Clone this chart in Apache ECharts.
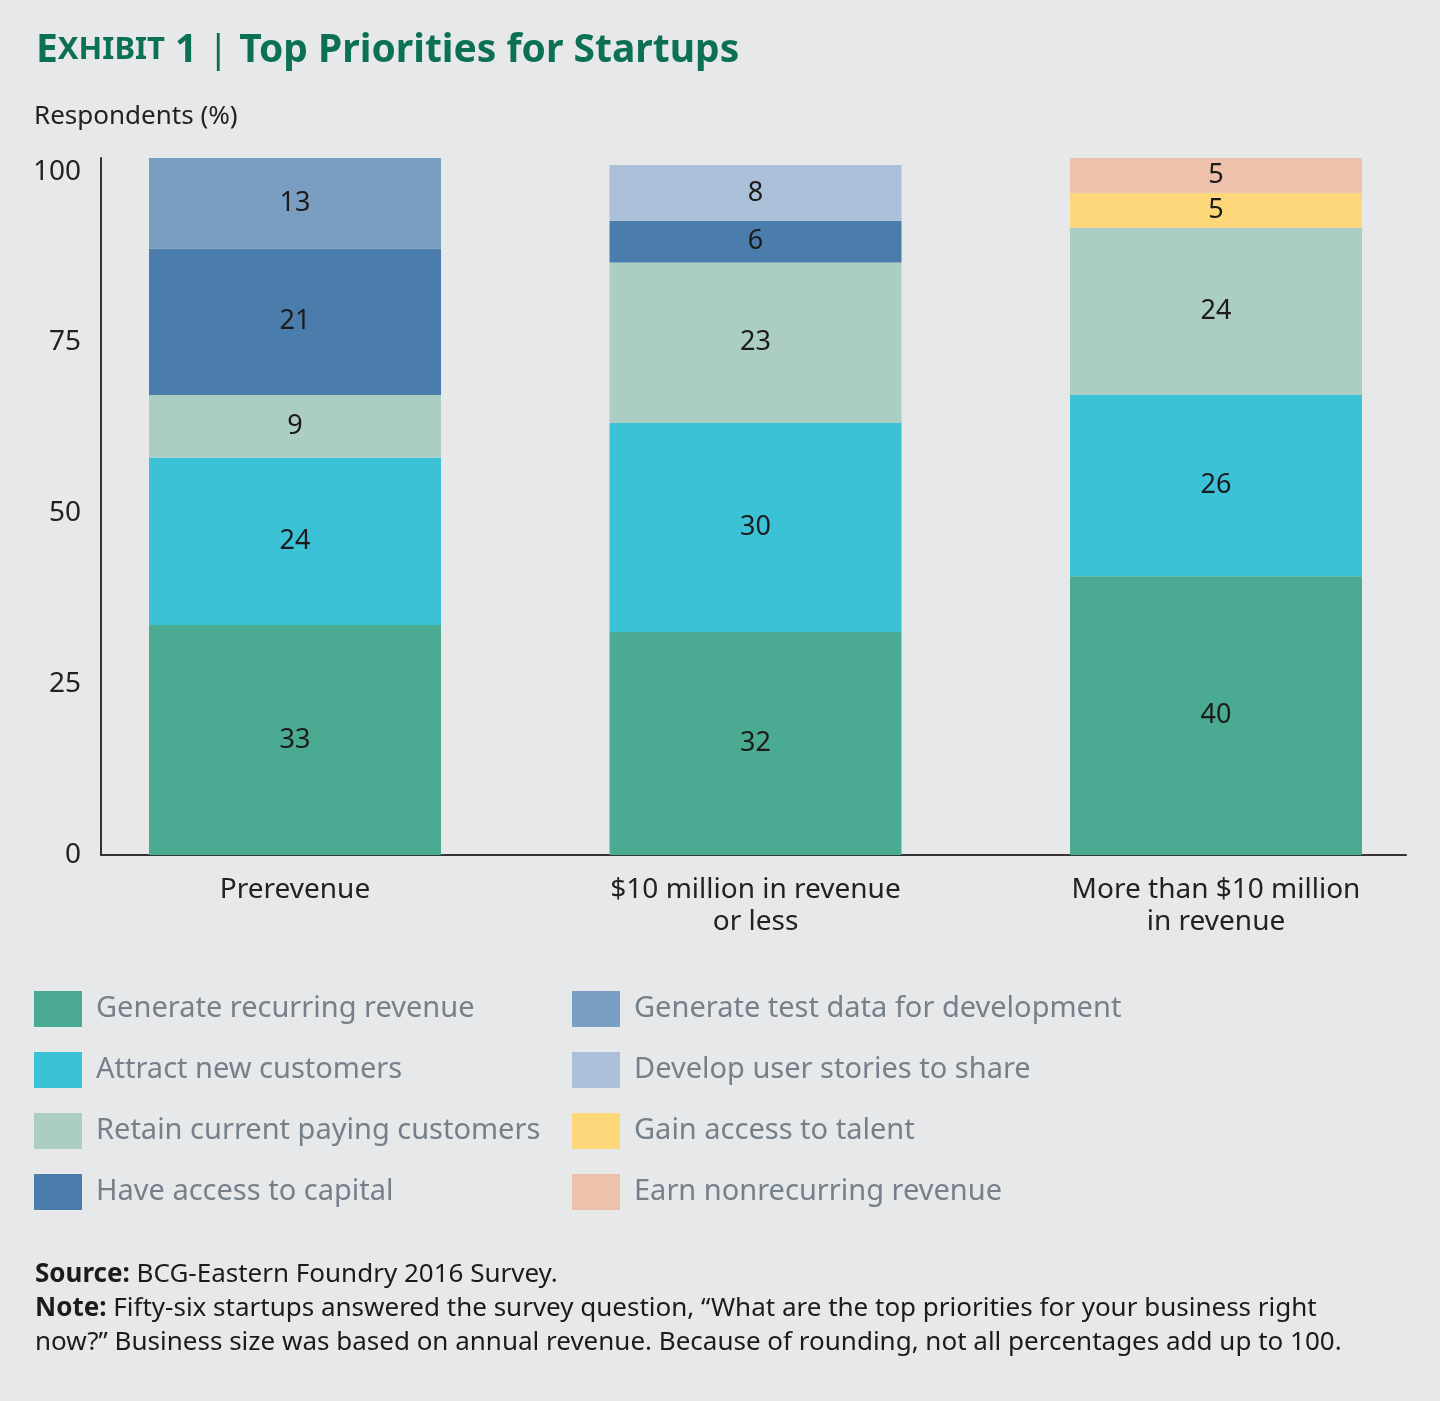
<!DOCTYPE html>
<html><head><meta charset="utf-8">
<script src="https://cdn.jsdelivr.net/npm/echarts@6/dist/echarts.min.js"></script>
<style>html,body{margin:0;padding:0;background:#e6e8ea;}#c{width:1440px;height:1401px;}</style>
</head><body><div id="c"></div>
<script>
const categories = ['Prerevenue', '$10 million in revenue\nor less', 'More than $10 million\nin revenue'];
const recurring = [33, 32, 40];
const attract = [24, 30, 26];
const retain = [9, 23, 24];
const capital = [21, 6, null];
const testData = [13, null, null];
const userStories = [null, 8, null];
const talent = [null, null, 5];
const nonrecurring = [null, null, 5];
const yTicks = [0, 25, 50, 75, 100];

const names = ['Generate recurring revenue','Attract new customers','Retain current paying customers','Have access to capital',
  'Generate test data for development','Develop user stories to share','Gain access to talent','Earn nonrecurring revenue'];
const colors = ['#4aab92','#3cc2d7','#abcdc3','#4a7dac','#7a9dc2','#acbfd9','#fed77b','#edc1ab'];
const datas = [recurring, attract, retain, capital, testData, userStories, talent, nonrecurring];
const FONT = '"Noto Sans", sans-serif';

const chart = echarts.init(document.getElementById('c'), null, {renderer:'canvas'});
const series = datas.map((d, i) => ({
  name: names[i], type: 'bar', stack: 'all', xAxisIndex: 1, yAxisIndex: 1,
  data: d, barWidth: 292,
  itemStyle: {color: colors[i]},
  label: {show: true, position: 'inside', color: '#1b1b1b', fontSize: 27, fontFamily: FONT,
    formatter: p => p.value == null ? '' : String(p.value)}
}));

chart.setOption({
  backgroundColor: '#e6e8ea',
  animation: false,
  title: [{
    left: 36, top: 31, padding: 0,
    text: '{a|E}{b|XHIBIT}{a| 1}{s| | }{a|Top Priorities for Startups}',
    textStyle: {rich: {
      a: {fontSize: 39, fontWeight: 'bold', color: '#0c7152', fontFamily: FONT},
      b: {fontSize: 31, fontWeight: 'bold', color: '#0c7152', fontFamily: FONT},
      s: {fontSize: 39, fontWeight: 'normal', color: '#0c7152', fontFamily: FONT}
    }}
  }, {
    left: 34, top: 104, padding: 0, text: 'Respondents (%)',
    textStyle: {fontSize: 26, fontWeight: 'normal', color: '#222', fontFamily: FONT}
  }],
  grid: [
    {left: 101, right: 34, top: 158, bottom: 546},
    {left: 295, width: 921, top: 158, bottom: 546}
  ],
  xAxis: [
    {gridIndex: 0, type: 'category', data: categories, axisLine: {show: true, lineStyle: {color: '#333', width: 2}},
      axisTick: {show: false}, axisLabel: {show: false}},
    {gridIndex: 1, type: 'category', data: categories, boundaryGap: false, axisLine: {show: false}, axisTick: {show: false},
      axisLabel: {color: '#222', fontSize: 28, fontFamily: FONT, margin: 19, lineHeight: 32}}
  ],
  yAxis: [
    {gridIndex: 0, type: 'value', min: 0, max: 102, interval: 25, splitLine: {show: false},
      axisLine: {show: true, lineStyle: {color: '#333', width: 2}}, axisTick: {show: false},
      axisLabel: {color: '#222', fontSize: 28, fontFamily: FONT, margin: 20,
        formatter: v => yTicks.includes(v) ? String(v) : ''}},
    {gridIndex: 1, type: 'value', min: 0, max: 100, interval: 25, show: false, splitLine: {show: false}}
  ],
  legend: [{
    orient: 'vertical', left: 34, top: 991, padding: 0, itemWidth: 48, itemHeight: 36, itemGap: 25,
    data: names.slice(0, 4), icon: 'rect', selectedMode: false,
    textStyle: {color: '#76808a', fontSize: 29, fontFamily: FONT, padding: [0, 0, 0, 9]}
  }, {
    orient: 'vertical', left: 572, top: 991, padding: 0, itemWidth: 48, itemHeight: 36, itemGap: 25,
    data: names.slice(4), icon: 'rect', selectedMode: false,
    textStyle: {color: '#76808a', fontSize: 29, fontFamily: FONT, padding: [0, 0, 0, 9]}
  }],
  graphic: [{
    type: 'text', left: 35, top: 1258,
    style: {
      text: '{b|Source:} BCG-Eastern Foundry 2016 Survey.\n{b|Note:} Fifty-six startups answered the survey question, “What are the top priorities for your business right\nnow?” Business size was based on annual revenue. Because of rounding, not all percentages add up to 100.',
      font: '26px "Noto Sans"', fill: '#1b1b1b', lineHeight: 34,
      rich: {b: {fontWeight: 'bold', fontSize: 26, fontFamily: FONT, fill: '#1b1b1b', lineHeight: 34}}
    }
  }],
  series: series
});
</script></body></html>
